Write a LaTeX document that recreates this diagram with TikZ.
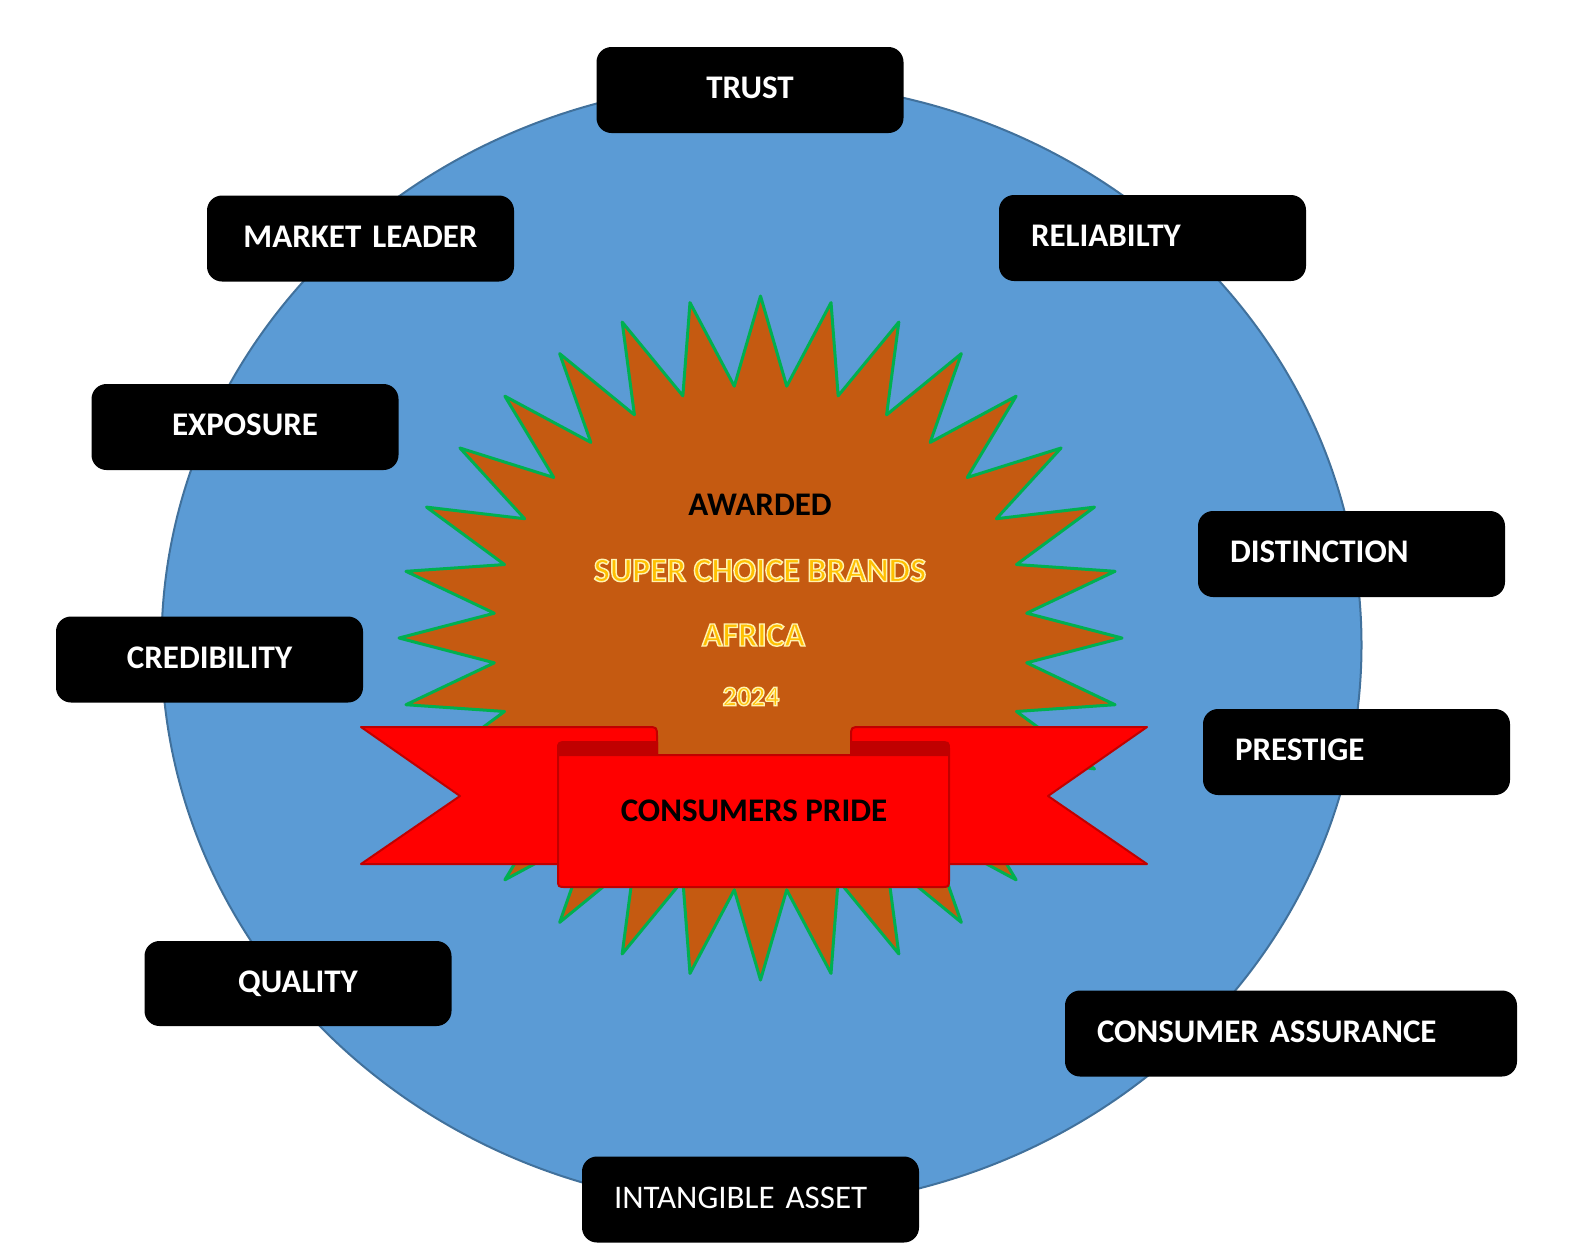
\documentclass[tikz,border=0pt]{standalone}
\usepackage{fontspec}
\setmainfont{Carlito}
\usepackage{tikz}
\usetikzlibrary{calc}
\definecolor{discblue}{HTML}{5B9BD5}
\definecolor{discedge}{HTML}{41719C}
\definecolor{burstbrown}{HTML}{C55A11}
\definecolor{burstgreen}{HTML}{00B050}
\definecolor{ribbonred}{HTML}{FF0000}
\definecolor{ribbondark}{HTML}{C00000}
\definecolor{awardgold}{HTML}{FFC000}
\newcommand\burstPoints{64}
\newcommand\goldRim[1]{\special{pdf:literal direct 2 Tr 1.4 w 1 0.95 0.7 RG}#1\special{pdf:literal direct 0 Tr}}

\begin{document}
\begin{tikzpicture}[x=1pt, y=-1pt,
        disc/.style={fill=discblue, draw=discedge, line width=2pt},
        burst/.style={fill=burstbrown, draw=burstgreen, line width=3pt, line join=round},
        ribbon/.style={fill=ribbonred, draw=ribbondark, line width=2pt, line join=round},
        fold/.style={fill=ribbondark, draw=ribbondark, line width=2pt, line join=round},
        tag/.style={fill=black, rounded corners=15pt, text=white,
            font=\fontsize{33}{40}\selectfont\bfseries,
            minimum height=86pt, inner xsep=32pt, inner ysep=0pt,
            text height=21pt, text depth=4pt, text width=243pt},
        award/.style={inner sep=0pt, font=\fontsize{33}{40}\selectfont\bfseries},
        goldtext/.style={award, text=awardgold, font=\fontsize{34}{40}\selectfont\bfseries}
    ]
    \useasboundingbox (0,0) rectangle (1581,1243);

    \draw[disc] (761.5,645) ellipse [x radius=600, y radius=563];

    % even samples are the tips, odd samples the notches
    \draw[burst]
        plot[domain=0:\burstPoints-1, samples=\burstPoints, variable=\k]
        ({760.5 + 361.5*(0.87 + 0.13*cos(\k*180))*cos(90 + \k*(360/\burstPoints))},
         {638 - 342*(0.87 + 0.13*cos(\k*180))*sin(90 + \k*(360/\burstPoints))}) -- cycle;

    \node[award] (awarded) at (760,505) {AWARDED};
    \node[goldtext] (brand) at (760,570.5) {\goldRim{SUPER CHOICE BRANDS}};
    \node[goldtext] (africa) at (753.5,635) {\goldRim{AFRICA}};
    \node[goldtext, font=\fontsize{28}{34}\selectfont\bfseries] (year) at (751,696.5) {\goldRim{2024}};

    % ribbon: tails behind, then the folds, then the band
    \draw[ribbon] (361,727) -- (647,727) .. controls (657,727) .. (657,737)
        -- (657,864) -- (361,864) -- (460,796) -- cycle;
    \draw[ribbon] (1147,727) -- (861,727) .. controls (851,727) .. (851,737)
        -- (851,864) -- (1147,864) -- (1048,796) -- cycle;
    \draw[fold] (558,755) -- (558,750) .. controls (558,742) .. (568,742)
        -- (657,742) -- (657,755) -- cycle;
    \draw[fold] (949,755) -- (949,750) .. controls (949,742) .. (939,742)
        -- (851,742) -- (851,755) -- cycle;
    \draw[ribbon] (558,755) -- (949,755) -- (949,879) .. controls (949,887) .. (941,887)
        -- (566,887) .. controls (558,887) .. (558,879) -- cycle;
    \node[award] (pride) at (754,811) {CONSUMERS PRIDE};

    \node[tag, align=center] (trust) at (750,90) {TRUST};
    \node[tag, align=center] (leader) at (360.5,238.5) {MARKET LEADER};
    \node[tag, align=left] (reliab) at (1152.5,238) {RELIABILTY};
    \node[tag, align=center] (exposure) at (245,427) {EXPOSURE};
    \node[tag, align=left] (distinct) at (1351.5,554) {DISTINCTION};
    \node[tag, align=center] (cred) at (209.5,659.5) {CREDIBILITY};
    \node[tag, align=left] (prestige) at (1356.5,752) {PRESTIGE};
    \node[tag, align=center, minimum height=85pt] (quality) at (298,983.5) {QUALITY};
    \node[tag, align=left, text width=388pt] (assur) at (1291,1033.5) {CONSUMER ASSURANCE};
    \node[tag, align=left, text width=273pt, font=\fontsize{33}{40}\selectfont] (asset) at (750.5,1199.5) {INTANGIBLE ASSET};
\end{tikzpicture}
\end{document}
